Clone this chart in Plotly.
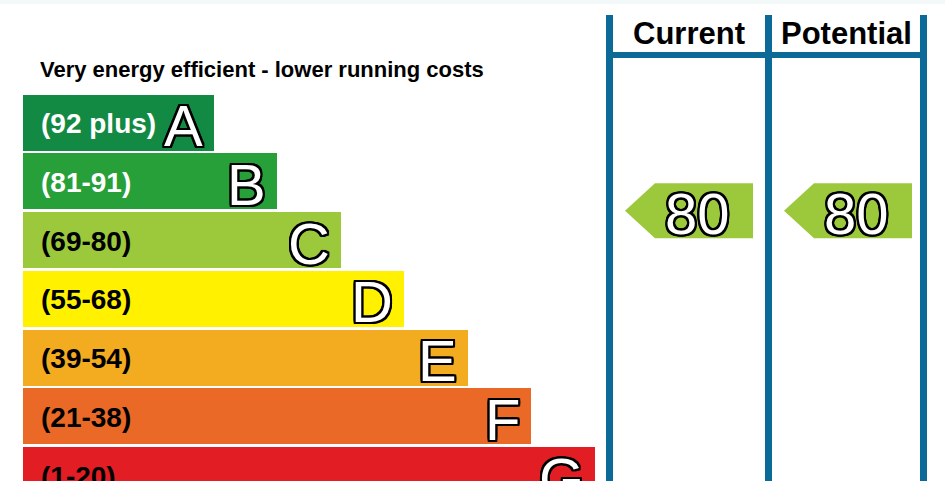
import plotly.graph_objects as go

# ---- data ----
bands = ["A", "B", "C", "D", "E", "F", "G"]
band_ranges = ["(92 plus)", "(81-91)", "(69-80)", "(55-68)", "(39-54)", "(21-38)", "(1-20)"]
band_low = [92, 81, 69, 55, 39, 21, 1]
band_high = [100, 91, 80, 68, 54, 38, 20]
band_colors = ["#138a43", "#27a03a", "#9cc93c", "#fff100", "#f3ab20", "#eb6926", "#e31d24"]
label_colors = ["white", "white", "black", "black", "black", "black", "black"]
columns = ["Current", "Potential"]
ratings = [80, 80]
title_text = "Very energy efficient - lower running costs"

# ---- layout geometry (pixels) ----
W, H = 945, 481
bar_left = 23
bar_step = 63.5
row0 = 122.5
pitch = 58.75
bar_h = 56
col_lines = [609.5, 768.5, 923.5]
line_w = 7
header_y = 55
FONT = "Liberation Sans, Arial, sans-serif"
outline = ",".join(f"{dx}px {dy}px 0 #000" for dx in (-2, -1, 0, 1, 2) for dy in (-2, -1, 0, 1, 2) if dx or dy)

fig = go.Figure()

centers = [row0 + pitch * i for i in range(len(bands))]
lengths = [bar_step * (i + 3) for i in range(len(bands))]

fig.add_trace(go.Bar(
    orientation="h", base=bar_left, x=lengths, y=centers, width=bar_h,
    marker=dict(color=band_colors, line=dict(width=0)), hoverinfo="skip",
))

annotations = []
for i, b in enumerate(bands):
    annotations.append(dict(x=39, y=centers[i] + 1, text=f"<b>{band_ranges[i]}</b>", showarrow=False,
                            xanchor="left", yanchor="middle",
                            font=dict(family=FONT, size=28, color=label_colors[i])))
    annotations.append(dict(x=bar_left + lengths[i] - 9, y=centers[i] + 3, text=b, showarrow=False,
                            xanchor="right", yanchor="middle",
                            font=dict(family=FONT, size=58, color="white", shadow=outline)))

annotations.append(dict(x=38, y=69, text=f"<b>{title_text}</b>", showarrow=False,
                        xanchor="left", yanchor="middle",
                        font=dict(family=FONT, size=22, color="black")))

# column headers
for j, name in enumerate(columns):
    cx = (col_lines[j] + col_lines[j + 1]) / 2
    annotations.append(dict(x=cx, y=33, text=f"<b>{name}</b>", showarrow=False,
                            xanchor="center", yanchor="middle",
                            font=dict(family=FONT, size=31, color="black")))

# rating arrows
for j, val in enumerate(ratings):
    bi = next(k for k in range(len(bands)) if band_low[k] <= val <= band_high[k])
    frac = (val - band_low[bi]) / (band_high[bi] - band_low[bi])
    bottom_edge = centers[bi] + pitch / 2
    yc = bottom_edge - frac * pitch
    tip = col_lines[j] + 15.5
    right = tip + 128
    top, bot = yc - 27.5, yc + 27.5
    fig.add_trace(go.Scatter(
        x=[tip, tip + 30, right, right, tip + 30, tip], y=[yc, top, top, bot, bot, yc],
        fill="toself", fillcolor=band_colors[bi], line=dict(width=0), mode="lines", hoverinfo="skip",
    ))
    annotations.append(dict(x=right - 56, y=yc + 3, text=str(val), showarrow=False,
                            xanchor="center", yanchor="middle",
                            font=dict(family=FONT, size=58, color="white", shadow=outline)))

shapes = [dict(type="rect", x0=0, x1=W, y0=0, y1=4, fillcolor="#f3f8f8", line=dict(width=0), layer="below")]
for cx in col_lines:
    shapes.append(dict(type="rect", x0=cx - line_w / 2, x1=cx + line_w / 2, y0=15, y1=H + 5,
                       fillcolor="#0b6a98", line=dict(width=0)))
shapes.append(dict(type="rect", x0=col_lines[0] - line_w / 2, x1=col_lines[-1] + line_w / 2,
                   y0=header_y - 3, y1=header_y + 3, fillcolor="#0b6a98", line=dict(width=0)))

fig.update_layout(
    width=W, height=H, margin=dict(l=0, r=0, t=0, b=0),
    paper_bgcolor="white", plot_bgcolor="white", showlegend=False,
    xaxis=dict(range=[0, W], visible=False, fixedrange=True),
    yaxis=dict(range=[H, 0], visible=False, fixedrange=True),
    annotations=annotations, shapes=shapes, bargap=0,
)

fig.write_html("out.html", config={"displayModeBar": False},
               post_script="document.body.style.margin='0';document.body.style.overflow='hidden';")
